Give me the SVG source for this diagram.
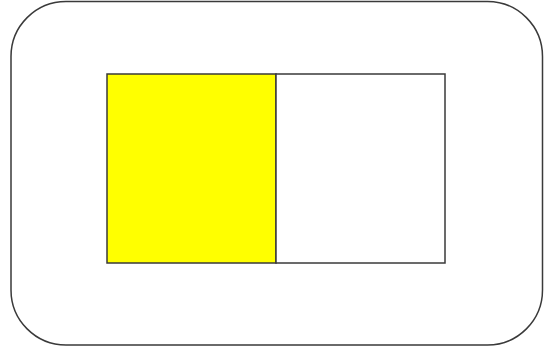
<svg xmlns="http://www.w3.org/2000/svg" width="545" height="348" viewBox="0 0 545 348">
<style>
.ln{stroke:#3a3a3a;stroke-width:1.5}
</style>
<rect width="545" height="348" fill="#ffffff"/>
<g id="frame">
<rect class="ln" x="11" y="1.5" width="531.5" height="343.5" rx="55" ry="55" fill="#ffffff"/>
</g>
<g id="left-cell">
<rect class="ln" x="107" y="74" width="169" height="189" fill="#ffff00"/>
</g>
<g id="right-cell">
<rect class="ln" x="276" y="74" width="169" height="189" fill="#ffffff"/>
</g>
<g id="connectors"></g>
</svg>
